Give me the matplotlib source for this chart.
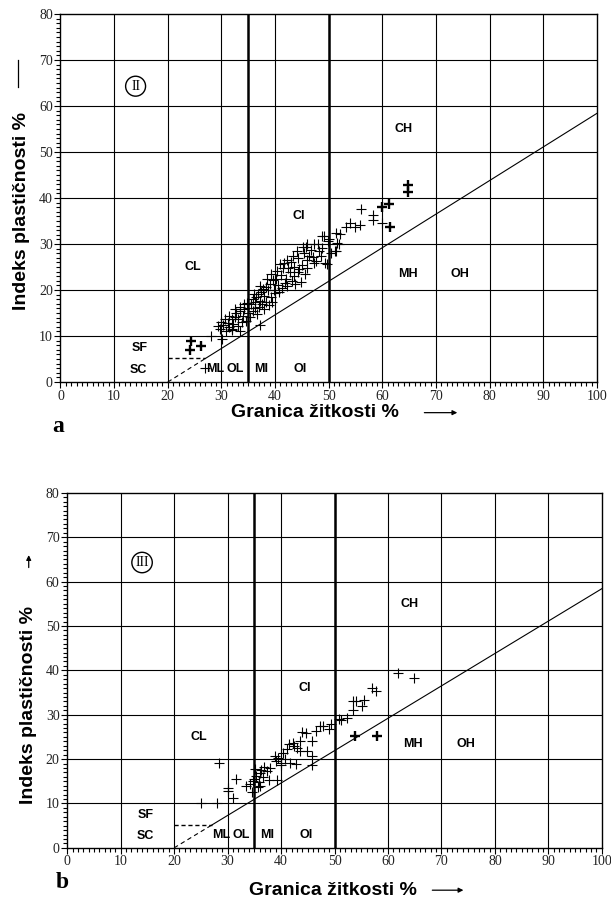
import numpy as np
import matplotlib
matplotlib.use('Agg')
from matplotlib import pyplot as plt

# chart a (II) - liquid limit / plasticity index
ll_a = [27.0, 28.0, 30.1, 29.4, 30.3, 31.2, 31.9, 32.5, 32.8, 33.4, 33.1, 34.0, 34.3, 35.0,
        35.0, 35.6, 35.9, 36.5, 36.2, 36.8, 37.4, 37.1, 37.7, 38.3, 38.0, 39.0, 38.6, 39.6,
        39.3, 40.2, 40.5, 41.1, 41.4, 41.7, 42.0, 42.7, 43.0, 43.6, 44.2, 44.2, 44.8, 45.4,
        46.0, 46.7, 47.3, 48.2, 48.8, 49.1, 49.8, 49.4, 50.4, 51.3, 51.6, 37.1,
        29.8, 30.8, 31.5, 32.0, 31.9, 33.4, 32.2, 33.0, 33.8, 34.5, 34.8, 35.4, 35.8, 36.3,
        36.6, 37.0, 37.5, 37.9, 38.3, 38.8, 39.5, 39.8, 40.0, 40.8, 41.3, 41.8, 42.3, 42.5,
        43.2, 43.8, 43.5, 44.5, 45.0, 45.5, 45.9, 46.4, 47.0, 47.7, 48.0, 48.5, 36.0, 37.2,
        38.5, 39.2, 40.4, 41.0, 42.2, 43.4, 44.0, 45.2, 46.0, 47.2, 34.2, 33.5, 32.6, 31.4,
        30.6, 29.9, 52.0, 51.1, 49.6, 45.7, 51.4, 52.1, 48.8, 50.0, 53.2, 53.9, 54.9, 55.9,
        56.1, 58.2, 58.2, 59.9]
pi_a = [3.1, 10.0, 9.3, 12.1, 12.4, 12.8, 13.6, 14.1, 15.0, 15.4, 13.6, 14.4, 15.8, 16.1,
        15.0, 16.9, 18.0, 18.4, 17.3, 19.1, 19.5, 17.6, 20.2, 20.6, 18.7, 21.3, 19.9, 22.1,
        18.4, 22.4, 21.0, 23.2, 24.7, 25.8, 22.4, 23.9, 26.1, 25.0, 26.9, 23.9, 21.7, 28.0,
        26.5, 28.7, 25.8, 28.4, 29.1, 31.7, 30.6, 25.8, 28.0, 28.4, 30.2, 12.4,
        11.5, 11.0, 12.0, 11.5, 11.3, 11.0, 12.6, 12.2, 13.0, 13.2, 17.2, 14.2, 15.5, 16.0,
        14.8, 16.3, 17.0, 15.9, 17.4, 16.8, 17.5, 20.0, 19.3, 19.6, 20.5, 21.5, 20.8, 24.8,
        22.0, 21.3, 23.1, 24.6, 25.4, 23.5, 24.8, 27.4, 27.1, 26.3, 30.0, 27.4, 19.2, 20.8,
        22.3, 23.4, 24.2, 25.6, 26.6, 27.5, 28.5, 29.3, 29.9, 30.1, 17.0, 16.4, 15.8, 14.4,
        13.6, 13.0, 29.9, 28.5, 25.6, 29.3, 32.5, 32.1, 31.7, 31.0, 33.8, 34.6, 33.8, 34.1,
        37.6, 36.3, 35.2, 34.5]
bold_ll_a = [24.3, 24.1, 26.2, 60.0, 61.3, 61.4, 64.8, 64.7]
bold_pi_a = [8.9, 7.0, 7.8, 38.0, 38.8, 33.8, 42.8, 41.3]

# chart b (III)
ll_b = [25.1, 28.0, 28.4, 30.1, 30.1, 31.0, 31.5, 33.4, 34.1, 34.5, 35.2, 35.0, 35.4, 35.8,
        36.0, 36.3, 36.6, 36.9, 35.6, 34.8, 37.7, 39.2, 38.8, 39.9, 40.3, 41.7, 42.8, 41.4,
        42.5, 43.6, 44.6, 45.7, 44.9, 45.7, 45.7, 43.6, 39.0, 39.5, 40.0, 40.8, 41.2, 42.2,
        43.0, 44.0, 46.5, 47.2, 47.9, 49.0, 49.4, 51.2, 52.3, 50.8, 53.4, 54.1, 53.4, 55.6,
        55.2, 57.0, 57.8, 61.8, 64.9, 37.3, 38.0, 36.1]
pi_b = [10.0, 10.1, 19.2, 13.4, 12.8, 11.3, 15.6, 13.9, 14.3, 12.6, 17.7, 15.5, 16.2, 14.8,
        16.8, 17.5, 16.0, 18.2, 13.7, 15.0, 15.4, 15.4, 20.7, 19.2, 21.4, 19.2, 18.8, 23.3,
        22.9, 24.1, 25.9, 24.1, 21.8, 20.8, 18.6, 21.8, 19.6, 20.2, 18.6, 20.0, 22.3, 23.7,
        22.5, 26.1, 26.3, 27.4, 27.4, 26.7, 27.8, 28.9, 29.3, 29.0, 33.1, 33.1, 31.1, 33.3,
        32.0, 36.1, 35.3, 39.3, 38.3, 17.3, 18.0, 13.9]
bold_ll_b = [53.8, 58.0]
bold_pi_b = [25.2, 25.2]

# zone labels: text, LL, PI
zones = [('CL', 24.7, 25.0), ('CI', 44.5, 36.0), ('CH', 64.0, 55.0), ('MH', 64.7, 23.5),
         ('OH', 74.5, 23.5), ('SF', 14.7, 7.5), ('SC', 14.6, 2.6), ('ML', 28.8, 2.8),
         ('OL', 32.6, 2.8), ('MI', 37.4, 2.8), ('OI', 44.6, 2.8)]

serif = 'Liberation Serif'
sans = 'Liberation Sans'


def draw_chart(ax, ll, pi, bold_ll, bold_pi, roman):
    ax.set_xlim(0, 100)
    ax.set_ylim(0, 80)
    for x in range(10, 100, 10):
        ax.axvline(x, color='k', lw=0.8, zorder=1)
    for x in (35, 50):
        ax.axvline(x, color='k', lw=1.8, zorder=1)
    for y in range(10, 80, 10):
        ax.axhline(y, color='k', lw=0.8, zorder=1)

    # A-line, dashed below PI = 5
    a_x = np.array([27.0, 100.0])
    ax.plot(a_x, 0.73 * (a_x - 20), color='k', lw=0.8, zorder=2)
    ax.plot([20, 27], [0, 0.73 * 7], color='k', lw=0.8, ls=(0, (4, 3)), zorder=2)
    ax.plot([20, 27], [5.2, 5.2], color='k', lw=1.0, ls=(0, (3, 2)), zorder=2)

    ax.plot(ll, pi, '+', color='k', ms=7, mew=0.8, zorder=3)
    ax.plot(bold_ll, bold_pi, '+', color='k', ms=7, mew=1.7, zorder=3)

    for name, x, y in zones:
        ax.text(x, y, name, ha='center', va='center', fontsize=9,
                fontweight='bold', family=sans, zorder=4)
    ax.text(14.0, 64.3, roman, ha='center', va='center', fontsize=10, family=serif,
            bbox=dict(boxstyle='circle,pad=0.25', fc='white', ec='k', lw=1.0))

    ax.set_xticks(range(0, 101, 10))
    ax.set_yticks(range(0, 81, 10))
    ax.set_xticks(range(0, 101), minor=True)
    ax.set_yticks(range(0, 81), minor=True)
    ax.tick_params(which='both', direction='out', color='k', width=0.8,
                   labelsize=10, pad=1.5, labelcolor='#222222')
    ax.tick_params(which='major', length=4)
    ax.tick_params(which='minor', length=3)
    for lab in ax.get_xticklabels() + ax.get_yticklabels():
        lab.set_family(serif)
    for s in ax.spines.values():
        s.set_linewidth(1.0)


def main():
    fig = plt.figure(figsize=(6.11, 9.01), dpi=100)

    ax1 = fig.add_axes([0.099, 0.576, 0.878, 0.4085])
    draw_chart(ax1, ll_a, pi_a, bold_ll_a, bold_pi_a, 'II')
    ax2 = fig.add_axes([0.110, 0.059, 0.875, 0.394])
    draw_chart(ax2, ll_b, pi_b, bold_ll_b, bold_pi_b, 'III')

    lab = dict(fontsize=14, fontweight='bold', family=sans)
    fig.text(0.516, 0.542, 'Granica žitkosti %', ha='center', va='center', **lab)
    fig.text(0.545, 0.012, 'Granica žitkosti %', ha='center', va='center', **lab)
    fig.text(0.036, 0.766, 'Indeks plastičnosti %', rotation=90, ha='center', va='center', **lab)
    fig.text(0.047, 0.218, 'Indeks plastičnosti %', rotation=90, ha='center', va='center', **lab)

    arrow = dict(arrowstyle='-|>', color='k', lw=0.9, mutation_scale=7)
    fig.add_artist(matplotlib.patches.FancyArrowPatch((0.690, 0.542), (0.753, 0.542),
                                                      transform=fig.transFigure, **arrow))
    fig.add_artist(matplotlib.patches.FancyArrowPatch((0.703, 0.012), (0.763, 0.012),
                                                      transform=fig.transFigure, **arrow))
    fig.add_artist(matplotlib.lines.Line2D([0.029, 0.029], [0.903, 0.933],
                                           transform=fig.transFigure, color='k', lw=0.9))
    fig.add_artist(matplotlib.patches.FancyArrowPatch((0.047, 0.367), (0.047, 0.387),
                                                      transform=fig.transFigure, **arrow))

    fig.text(0.095, 0.527, 'a', fontsize=17, fontweight='bold', family=serif,
             ha='center', va='center')
    fig.text(0.102, 0.020, 'b', fontsize=17, fontweight='bold', family=serif,
             ha='center', va='center')

    fig.savefig('out.png', dpi=100, facecolor='white')


if __name__ == '__main__':
    main()
